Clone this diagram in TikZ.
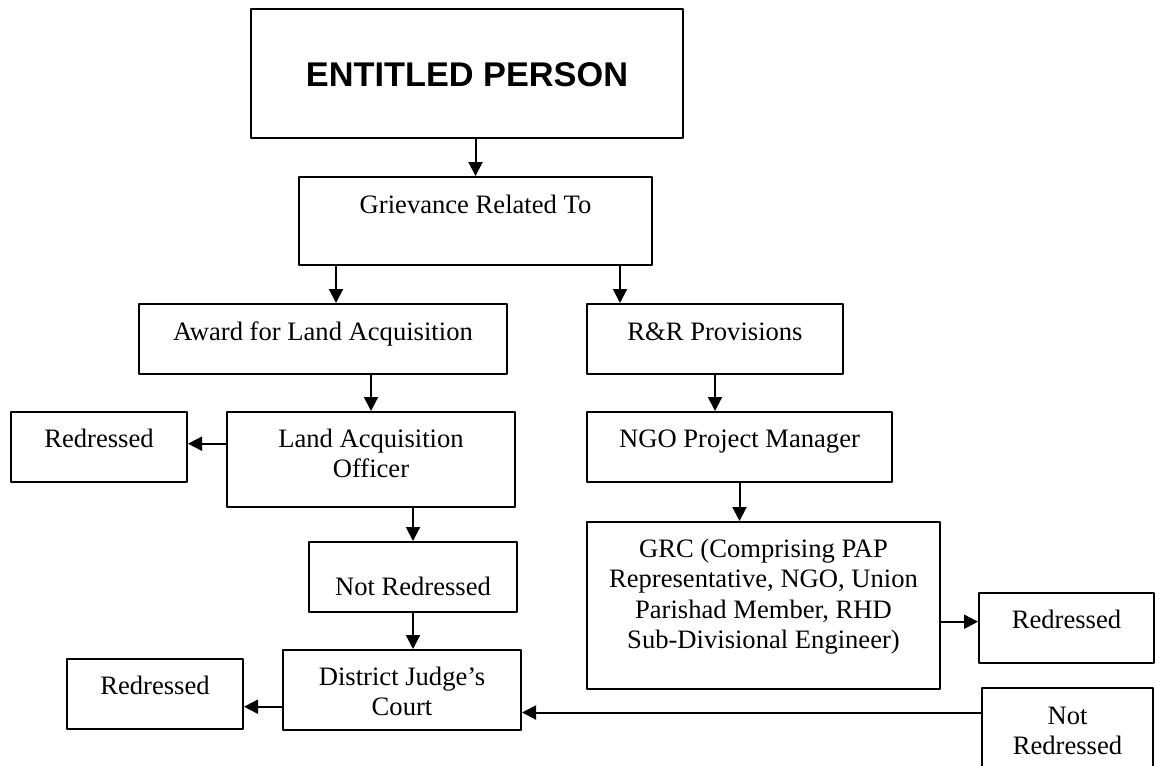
\documentclass[tikz,border=0pt]{standalone}
\usepackage{fontspec}
\setmainfont{Liberation Serif}
\newfontfamily\headfont{Liberation Sans}
\usetikzlibrary{arrows.meta}
\newcommand{\cellrows}[1]{\begin{tabular}[t]{@{}c@{}}#1\end{tabular}}
\tikzset{
	cell/.style={draw,line width=2pt,inner sep=0pt,text height=35pt,text depth=35pt,font=\fontsize{26.6pt}{30.5pt}\selectfont},
	arr/.style={->,line width=2pt}
}
\begin{document}
\begin{tikzpicture}[>={Triangle[length=14pt,width=14pt]},line join=round,line cap=round,x=1pt,y=-1pt]
	\useasboundingbox (0,0) rectangle (1155,765);
	\clip (0,0) rectangle (1155,765);
	% boxes
	\node[cell,minimum width=432pt,text height=78pt,text depth=51pt,font=\headfont\bfseries\fontsize{34.3pt}{40pt}\selectfont] (ep) at (467,73.5) {ENTITLED PERSON};
	\node[cell,minimum width=353pt,text height=36pt,text depth=52pt] (grv) at (475.5,221) {Grievance Related To};
	\node[cell,minimum width=368pt,text height=36pt,text depth=34pt] (award) at (323,339) {Award for Land Acquisition};
	\node[cell,minimum width=256pt,text height=36pt,text depth=34pt] (rr) at (715,339) {R\&R Provisions};
	\node[cell,minimum width=288pt,text depth=60pt] (lao) at (371,459.5) {\cellrows{Land Acquisition\\Officer}};
	\node[cell,minimum width=176pt] (red1) at (99,447) {Redressed};
	\node[cell,minimum width=305pt] (ngo) at (739.5,447) {NGO Project Manager};
	\node[cell,minimum width=208pt,text height=53pt,text depth=17pt] (nr1) at (413,577) {Not Redressed};
	\node[cell,minimum width=238pt,text depth=45pt] (djc) at (402,690) {\cellrows{District Judge’s\\Court}};
	\node[cell,minimum width=176pt] (red2) at (155,694) {Redressed};
	\node[cell,minimum width=353pt,text depth=132pt] (grc) at (763.5,605.5) {\cellrows{GRC (Comprising PAP\\Representative, NGO, Union\\Parishad Member, RHD\\Sub-Divisional Engineer)}};
	\node[cell,minimum width=175pt] (red3) at (1066.5,628) {Redressed};
	\node[cell,minimum width=171pt,text height=36pt,text depth=61pt] (nr2) at (1067.5,736.5) {\cellrows{Not\\Redressed}};
	% arrow ends off the box centres
	\path
	([xshift=38pt]grv.south west) coordinate (g_1)
	([xshift=-33pt]grv.south east) coordinate (g_2)
	([yshift=3.3pt]red1.east) coordinate (r_1)
	([yshift=6.3pt]red3.west) coordinate (r_3)
	([yshift=-16.7pt]djc.west) coordinate (d_1)
	([yshift=-22.5pt]djc.east) coordinate (d_2)
	;
	\draw[arr] (ep.south -| grv.north) -- (grv.north);
	\draw[arr] (g_1) -- (g_1 |- award.north);
	\draw[arr] (g_2) -- (g_2 |- rr.north);
	\draw[arr] (award.south -| lao.north) -- (lao.north);
	\draw[arr] (rr.south) -- (rr.south |- ngo.north);
	\draw[arr] (r_1 -| lao.west) -- (r_1);
	\draw[arr] (lao.south -| nr1.north) -- (nr1.north);
	\draw[arr] (nr1.south) -- (nr1.south |- djc.north);
	\draw[arr] (d_1) -- (d_1 -| red2.east);
	\draw[arr] (ngo.south) -- (ngo.south |- grc.north);
	\draw[arr] (r_3 -| grc.east) -- (r_3);
	\draw[arr] (d_2 -| nr2.west) -- (d_2);
\end{tikzpicture}
\end{document}
